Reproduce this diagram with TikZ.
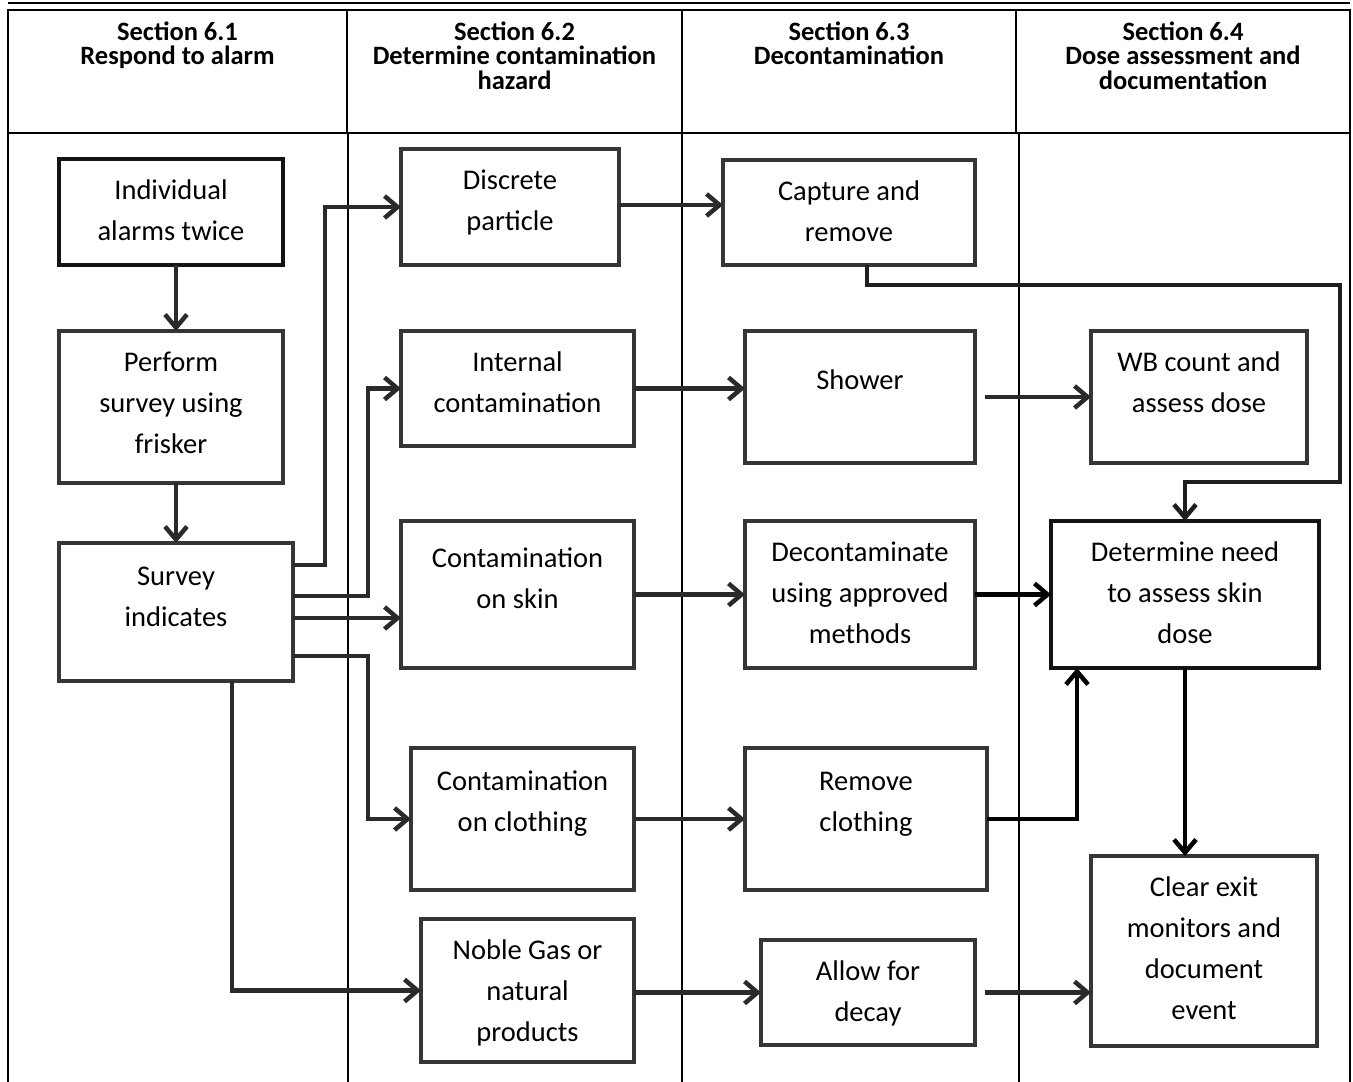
\documentclass[tikz,border=0pt]{standalone}
\usepackage{fontspec}
\setmainfont{Carlito}
\usetikzlibrary{arrows.meta,calc}
\definecolor{boxgray}{HTML}{363636}
\definecolor{linegray}{HTML}{2A2A2A}
\newcommand{\mkbox}[8][box]{%
  \node[#1, minimum width={(#5-#3)*1pt}, minimum height={(#6-#4)*1pt}] (#2) at ({(#3+#5)/2},{(#4+#6)/2}) {};
  \node[txt] at ({(#3+#5)/2},{#4+#7}) {\rule{0pt}{30pt}#8};
}
\begin{document}
\begin{tikzpicture}[x=1pt,y=-1pt,
  box/.style={draw=boxgray, line width=4.2pt, inner sep=0pt, outer sep=0pt, fill=white},
  boxk/.style={draw=black!92, line width=4.6pt, inner sep=0pt, outer sep=0pt, fill=white},
  txt/.style={anchor=north, inner sep=0pt, align=center, font=\fontsize{28.5}{41}\selectfont},
  hdr/.style={anchor=north, inner sep=0pt, align=center, font=\fontsize{26.5}{24.5}\selectfont\bfseries},
  conn/.style={draw=linegray, line width=4.5pt, -{Straight Barb[length=13pt,width=22pt]}},
  connk/.style={draw=black, line width=4.5pt, -{Straight Barb[length=13pt,width=22pt]}},
  seg/.style={draw=linegray, line width=4.5pt}
]
\useasboundingbox (0,0) rectangle (1353,1082);
% header frame
\draw[line width=2.6pt] (8,3) -- (1350,3);
\draw[line width=2.6pt] (8,1082) -- (8,10) -- (1350,10) -- (1350,1082);
\draw[line width=2.6pt] (8,133) -- (1350,133);
\foreach \x in {347,682,1016} \draw[line width=2.6pt] (\x,10) -- (\x,133);
\foreach \x in {348,682,1019} \draw[line width=1.3pt] (\x,133) -- (\x,1082);
\node[hdr] (h1) at (177.5,18) {\rule{0pt}{22pt}Section 6.1\\Respond to alarm};
\node[hdr] (h2) at (514.5,18) {\rule{0pt}{22pt}Section 6.2\\Determine contamination\\hazard};
\node[hdr] (h3) at (849,18) {\rule{0pt}{22pt}Section 6.3\\Decontamination};
\node[hdr] (h4) at (1183,18) {\rule{0pt}{22pt}Section 6.4\\Dose assessment and\\documentation};
% boxes
\mkbox[boxk]{ind}{59}{159}{283}{265}{10}{Individual\\alarms twice}
\mkbox{perf}{59}{331}{283}{483}{10}{Perform\\survey using\\frisker}
\mkbox{surv}{59}{543}{293}{681}{12}{Survey\\indicates}
\mkbox{disc}{401}{149}{619}{265}{10}{Discrete\\particle}
\mkbox{intl}{401}{331}{634}{446}{10}{Internal\\contamination}
\mkbox{skin}{401}{521}{634}{668}{16}{Contamination\\on skin}
\mkbox{cloth}{411}{748}{634}{890}{12}{Contamination\\on clothing}
\mkbox{noble}{421}{919}{634}{1062}{10}{Noble Gas or\\natural\\products}
\mkbox{capt}{723}{160}{975}{265}{10}{Capture and\\remove}
\mkbox{show}{745}{331}{975}{463}{28}{Shower}
\mkbox{deco}{745}{521}{975}{668}{10}{Decontaminate\\using approved\\methods}
\mkbox{remc}{745}{748}{987}{890}{12}{Remove\\clothing}
\mkbox{decay}{761}{940}{975}{1045}{10}{Allow for\\decay}
\mkbox{wb}{1091}{331}{1307}{463}{10}{WB count and\\assess dose}
\mkbox[boxk]{det}{1051}{521}{1319}{668}{10}{Determine need\\to assess skin\\dose}
\mkbox{clear}{1091}{856}{1317}{1046}{10}{Clear exit\\monitors and\\document\\event}
% connectors, column 1
\draw[conn] ($(ind.south)+(5,0)$) -- ($(perf.north)+(5,0)$);
\draw[conn] ($(perf.south)+(5,0)$) -- (surv.north);
\draw[conn] ($(surv.east)+(0,-47)$) -- ++(32,0) |- (disc.west);
\draw[conn] ($(surv.east)+(0,-16)$) -- ++(75,0) |- (intl.west);
\coordinate (s6) at ($(surv.east)+(0,6)$);
\draw[conn] (s6) -- (s6 -| skin.west);
\draw[conn] ($(surv.east)+(0,44)$) -- ++(75,0) |- (cloth.west);
\draw[conn] ($(surv.south)+(56,0)$) |- (noble.west);
% column 2 -> 3
\draw[conn] ($(disc.east)+(0,-2)$) -- ($(disc.east -| capt.west)+(0,-2)$);
\draw[conn] (intl.east) -- (intl.east -| show.west);
\draw[conn] (skin.east) -- (skin.east -| deco.west);
\draw[conn] (cloth.east) -- (cloth.east -| remc.west);
\draw[conn] ($(noble.east)+(0,2)$) -- ($(noble.east -| decay.west)+(0,2)$);
% column 3 -> 4
\coordinate (cA) at ($(capt.south)+(18,20)$);
\coordinate (cB) at ($(det.north)+(155,-39)$);
\draw[connk, draw=black!88] ($(capt.south)+(18,0)$) -- (cA) -| (cB) -| (det.north);
\draw[conn] ($(show.east)+(10,0)$) -- (show.east -| wb.west);
\draw[connk] (deco.east) -- (deco.east -| det.west);
\draw[connk] (remc.east) -| ($(det.south)+(-108,0)$);
\draw[connk] (det.south) -- (det.south |- clear.north);
\draw[conn] ($(decay.east)+(10,0)$) -- (decay.east -| clear.west);
\end{tikzpicture}
\end{document}
